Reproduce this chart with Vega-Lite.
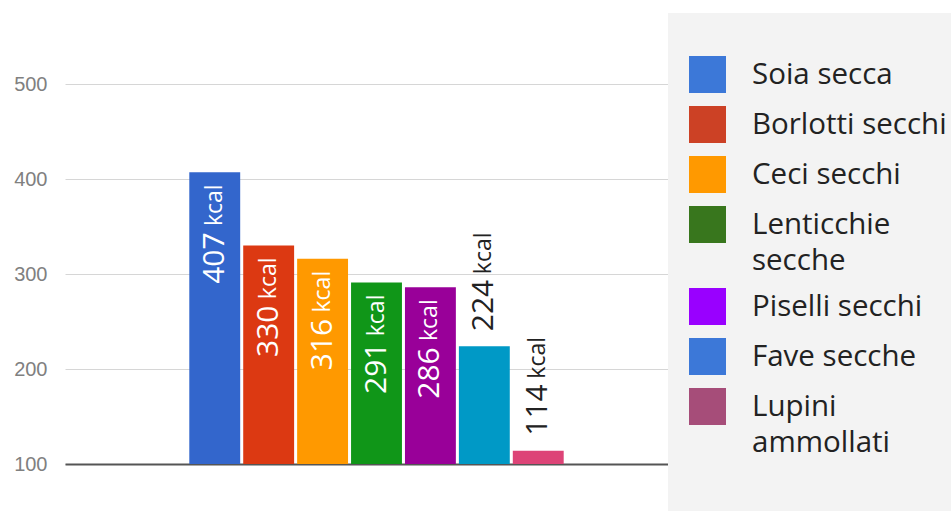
{
  "$schema": "https://vega.github.io/schema/vega-lite/v6.json",
  "width": 623,
  "height": 380,
  "autosize": {"type": "none"},
  "padding": {"left": 65, "top": 84, "right": 263, "bottom": 47},
  "background": "white",
  "config": {
    "view": {"stroke": null},
    "font": "Open Sans",
    "style": {"guide-label": {"lineHeight": 36}}
  },
  "data": {
    "values": [
      {"name": "Soia secca", "kcal": 407},
      {"name": "Borlotti secchi", "kcal": 330},
      {"name": "Ceci secchi", "kcal": 316},
      {"name": "Lenticchie secche", "kcal": 291},
      {"name": "Piselli secchi", "kcal": 286},
      {"name": "Fave secche", "kcal": 224},
      {"name": "Lupini ammollati", "kcal": 114}
    ]
  },
  "encoding": {
    "x": {
      "datum": "Legumi",
      "type": "nominal",
      "scale": {"paddingInner": 0, "paddingOuter": 0.332},
      "axis": {"title": null, "labels": false, "ticks": false, "domain": true, "domainColor": "#555555", "domainWidth": 2, "grid": false}
    },
    "xOffset": {
      "field": "name",
      "type": "nominal",
      "sort": null,
      "scale": {"paddingInner": 0.056, "paddingOuter": 0}
    },
    "y": {
      "field": "kcal",
      "type": "quantitative",
      "scale": {"domain": [100, 500], "zero": false, "nice": false},
      "axis": {"title": null, "values": [100, 200, 300, 400, 500], "grid": true, "gridColor": "#d6d6d6", "domain": false, "ticks": false, "labelFontSize": 20, "labelFont": "Liberation Sans", "labelColor": "#808080", "labelPadding": 18}
    }
  },
  "layer": [
    {
      "mark": {"type": "bar"},
      "encoding": {
        "y2": {"datum": 100},
        "fill": {
          "field": "name",
          "type": "nominal",
          "sort": null,
          "scale": {
            "range": ["#3366cc", "#dc3912", "#ff9900", "#109618", "#990099", "#0099c6", "#dd4477"]
          },
          "legend": null
        }
      }
    },
    {
      "mark": {"type": "square", "opacity": 0},
      "encoding": {
        "color": {
          "field": "name",
          "type": "nominal",
          "scale": {
            "domain": ["Soia secca", "Borlotti secchi", "Ceci secchi", "Lenticchie secche", "Piselli secchi", "Fave secche", "Lupini ammollati"],
            "range": ["#3c78d8", "#cc4125", "#ff9900", "#38761d", "#9900ff", "#3c78d8", "#a64d79"]
          },
          "legend": {
            "orient": "none",
            "legendX": 603,
            "legendY": -71,
            "padding": 21,
            "fillColor": "#f3f3f3",
            "title": " ",
            "titleFontSize": 12,
            "titlePadding": 10,
            "symbolType": "square",
            "symbolSize": 1369,
            "symbolOpacity": 1,
            "symbolStrokeWidth": 0,
            "labelFontSize": 29.5,
            "labelFont": "Open Sans",
            "labelColor": "#222222",
            "labelOffset": 26,
            "labelLimit": 400,
            "rowPadding": 13,
            "labelExpr": "datum.label == 'Lenticchie secche' ? ['Lenticchie', 'secche'] : datum.label == 'Lupini ammollati' ? ['Lupini', 'ammollati', ' '] : datum.label"
          }
        }
      }
    },
    {
      "transform": [{"filter": "datum.kcal >= 250"}],
      "mark": {"type": "text", "angle": 270, "align": "right", "baseline": "middle", "dx": -60, "fontSize": 30, "color": "white"},
      "encoding": {"text": {"field": "kcal", "type": "quantitative"}}
    },
    {
      "transform": [{"filter": "datum.kcal >= 250"}],
      "mark": {"type": "text", "angle": 270, "align": "right", "baseline": "middle", "dx": -12, "fontSize": 23, "color": "white", "text": "kcal"},
      "encoding": {}
    },
    {
      "transform": [{"filter": "datum.kcal < 250"}],
      "mark": {"type": "text", "angle": 270, "align": "left", "baseline": "middle", "dx": 15, "fontSize": 30, "color": "#222222"},
      "encoding": {"text": {"field": "kcal", "type": "quantitative"}}
    },
    {
      "transform": [{"filter": "datum.kcal < 250"}],
      "mark": {"type": "text", "angle": 270, "align": "left", "baseline": "middle", "dx": 72, "fontSize": 23, "color": "#222222", "text": "kcal"},
      "encoding": {}
    }
  ]
}
